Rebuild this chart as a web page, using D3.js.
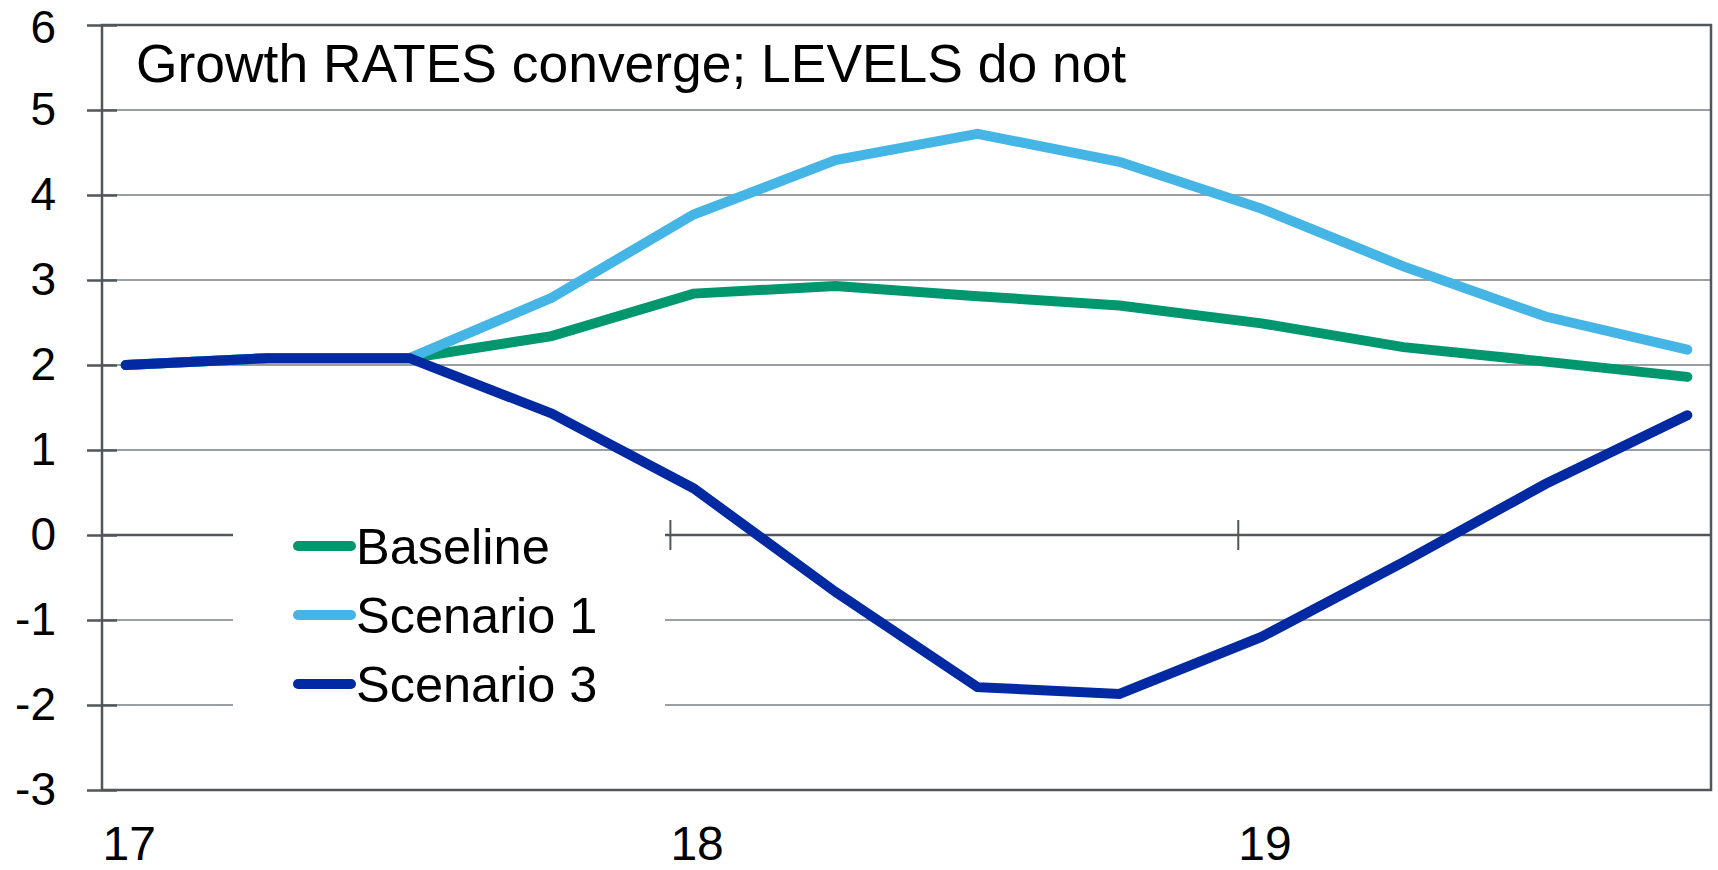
<!DOCTYPE html>
<html>
<head>
<meta charset="utf-8">
<script src="https://cdn.jsdelivr.net/npm/d3@7"></script>
<style>
  body { margin: 0; background: #fff; }
  text { font-family: "Liberation Sans", Arial, sans-serif; fill: #000; }
</style>
</head>
<body>
<div id="chart"></div>
<script>
// quarterly growth rates, plotted mid-month of Jan/Apr/Jul/Oct
const periods = ["2017-01", "2017-04", "2017-07", "2017-10",
                 "2018-01", "2018-04", "2018-07", "2018-10",
                 "2019-01", "2019-04", "2019-07", "2019-10"];
const baseline  = [2.00, 2.08, 2.08, 2.34, 2.84, 2.93, 2.81, 2.70, 2.49, 2.21, 2.04, 1.86];
const scenario1 = [2.00, 2.08, 2.08, 2.79, 3.77, 4.41, 4.72, 4.39, 3.84, 3.16, 2.57, 2.18];
const scenario3 = [2.00, 2.08, 2.08, 1.43, 0.55, -0.67, -1.79, -1.87, -1.20, -0.32, 0.60, 1.41];
const seriesNames = ["Baseline", "Scenario 1", "Scenario 3"];
const yearLabels = ["17", "18", "19"];
const yTicks = [-3, -2, -1, 0, 1, 2, 3, 4, 5, 6];

const width = 1718, height = 870;
const margin = {top: 25, right: 7, bottom: 80, left: 102};
const axisCol = "#50565b", gridCol = "#9b9fa3";
const colors = ["#00976f", "#45b5e6", "#0029a2"];

// month index from "YYYY-MM", centred in the month
const monthPos = p => (+p.slice(0, 4) - 2017) * 12 + (+p.slice(5, 7) - 1) + 0.5;

const svg = d3.select("#chart").append("svg")
    .attr("width", width)
    .attr("height", height);

const x = d3.scaleLinear()
    .domain([0, 34])
    .range([margin.left, width - margin.right]);

const y = d3.scaleLinear()
    .domain([-3, 6])
    .range([height - margin.bottom, margin.top]);

const x0 = x.range()[0], x1 = x.range()[1];

// gridlines
svg.append("g")
    .selectAll("line")
    .data(yTicks.filter(d => d !== -3 && d !== 6))
    .join("line")
    .attr("x1", x0).attr("x2", x1)
    .attr("y1", d => y(d)).attr("y2", d => y(d))
    .attr("stroke", d => d === 0 ? axisCol : gridCol)
    .attr("stroke-width", d => d === 0 ? 2.5 : 2);

// legend background hides the gridlines behind it
svg.append("rect")
    .attr("x", 233).attr("y", 478)
    .attr("width", 432).attr("height", 280)
    .attr("fill", "#fff");

// ticks crossing the zero line
const zeroAxis = svg.append("g")
    .attr("transform", `translate(0,${y(0)})`)
    .call(d3.axisBottom(x).tickValues([12, 24]).tickSize(15).tickFormat(""));
zeroAxis.select(".domain").remove();
zeroAxis.selectAll(".tick line")
    .attr("y1", -15)
    .attr("stroke", axisCol)
    .attr("stroke-width", 2);

// plot border
svg.append("rect")
    .attr("x", x0).attr("y", y(6))
    .attr("width", x1 - x0).attr("height", y(-3) - y(6))
    .attr("fill", "none")
    .attr("stroke", axisCol)
    .attr("stroke-width", 2.5);

// y axis
const yAxis = svg.append("g")
    .attr("transform", `translate(${x0},0)`)
    .call(d3.axisLeft(y).tickValues(yTicks).tickSize(15).tickPadding(31)
        .tickFormat(d => String(d)));
yAxis.select(".domain").remove();
yAxis.selectAll(".tick line")
    .attr("x1", 15)
    .attr("stroke", axisCol)
    .attr("stroke-width", 2.5);
yAxis.selectAll(".tick text")
    .attr("font-size", 46)
    .attr("font-family", "Liberation Sans, Arial, sans-serif")
    .attr("fill", "#000")
    .attr("y", d => d === 6 ? 3 : 0);  // keep top label inside the page

// x labels
const xAxis = svg.append("g")
    .attr("transform", `translate(0,${y(-3)})`)
    .call(d3.axisBottom(x).tickValues([0, 12, 24]).tickSize(0).tickPadding(36)
        .tickFormat((d, i) => yearLabels[i]));
xAxis.select(".domain").remove();
xAxis.selectAll(".tick text")
    .attr("text-anchor", "start")
    .attr("font-size", 48)
    .attr("font-family", "Liberation Sans, Arial, sans-serif")
    .attr("fill", "#000");

// series
const allSeries = [baseline, scenario1, scenario3];
const line = d3.line()
    .x((d, i) => x(monthPos(periods[i])))
    .y(d => y(d));

svg.append("g")
    .selectAll("path")
    .data(allSeries)
    .join("path")
    .attr("d", line)
    .attr("fill", "none")
    .attr("stroke", (d, i) => colors[i])
    .attr("stroke-width", 10)
    .attr("stroke-linecap", "round")
    .attr("stroke-linejoin", "miter");

// title
svg.append("text")
    .attr("x", 136)
    .attr("y", 82)
    .attr("font-size", 53.4)
    .text("Growth RATES converge; LEVELS do not");

// legend
const legend = svg.append("g")
    .selectAll("g")
    .data(seriesNames)
    .join("g")
    .attr("transform", (d, i) => `translate(298,${546 + i * 69})`);
legend.append("line")
    .attr("x1", 0).attr("x2", 53)
    .attr("stroke", (d, i) => colors[i])
    .attr("stroke-width", 10)
    .attr("stroke-linecap", "round");
legend.append("text")
    .attr("x", 58)
    .attr("y", 18)
    .attr("font-size", 50.5)
    .text(d => d);
</script>
</body>
</html>
